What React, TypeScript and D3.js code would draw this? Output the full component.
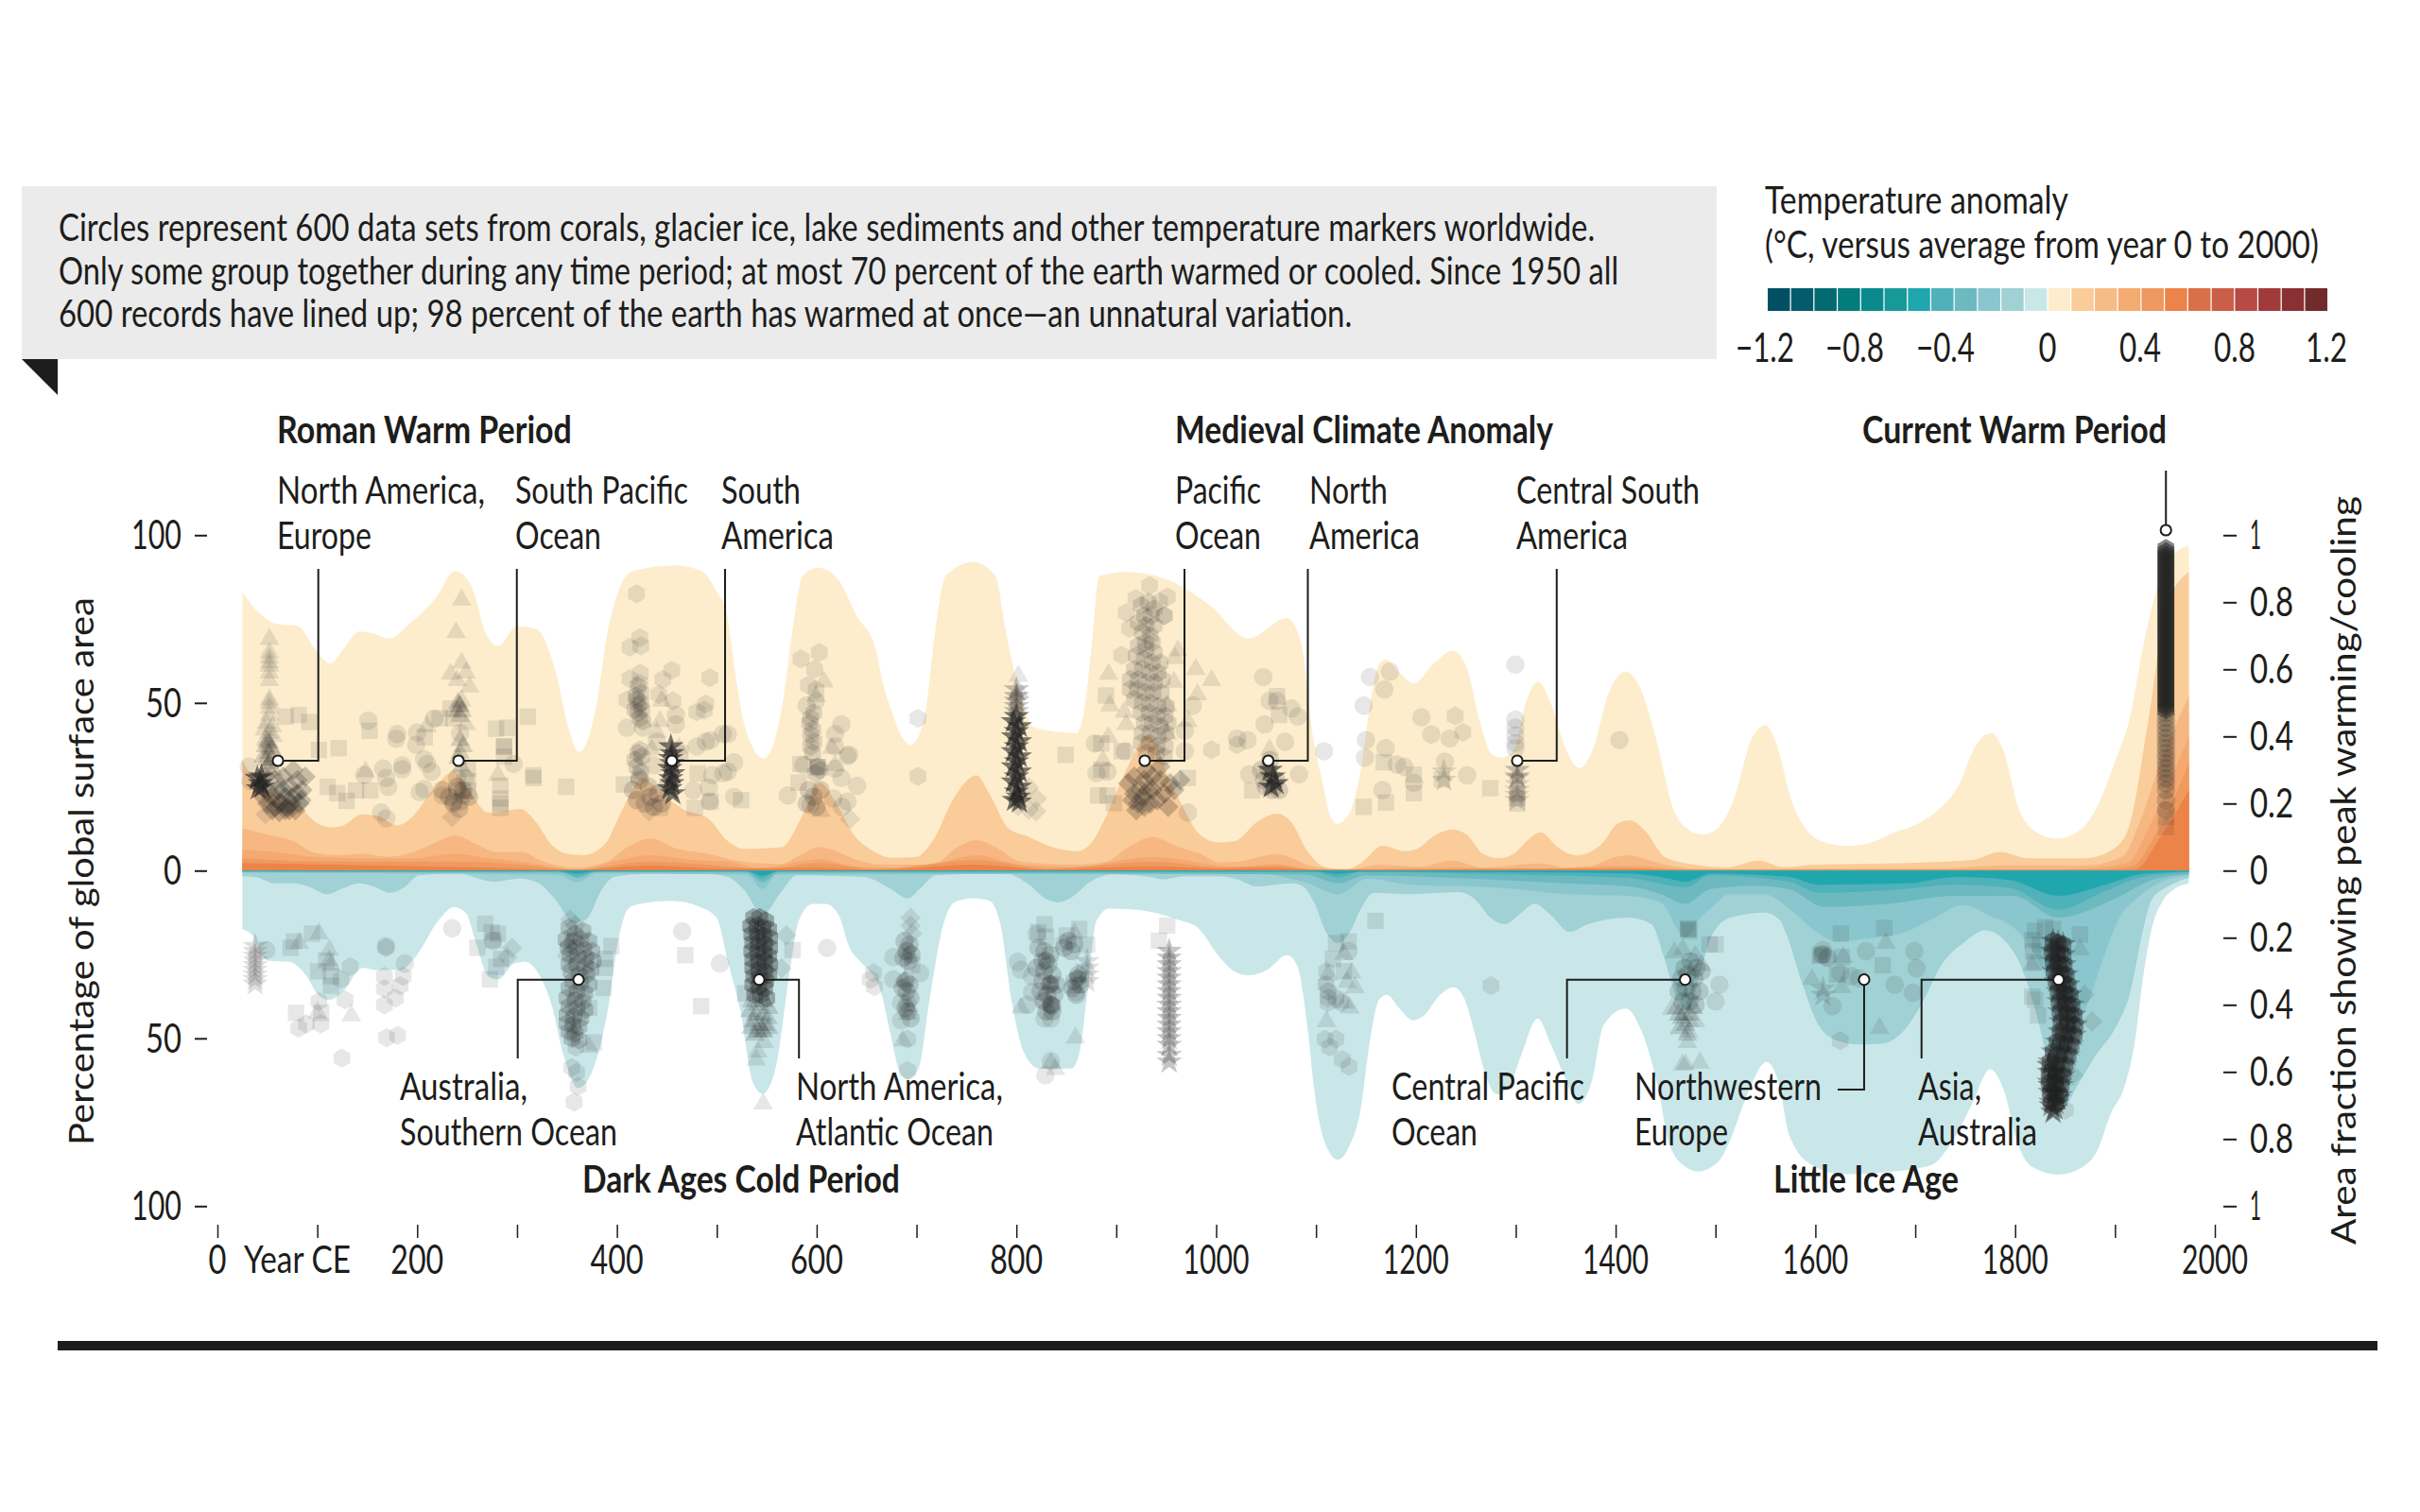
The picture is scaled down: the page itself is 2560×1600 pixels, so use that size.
import * as d3 from "d3";
import { useEffect, useRef } from "react";

type Pt = [number, number];

// warm side: percent of surface area, darkest layer last
const warm1: Pt[] = [[25,83],[41,77],[60,73.5],[80,73],[99,65.6],[113,61.7],[126,66],[142,71.3],[157,70.6],[172,69.2],[192,73.5],[219,81.4],[238,89.3],[254,85],[269,70.6],[281,67],[300,72.8],[319,72],[339,59],[352,42],[362,35.4],[372,40],[381,52],[390,70],[400,82],[416,89.3],[458,91],[485,89.3],[500,83],[509,77.8],[520,56],[528,43],[547,33.5],[557,38],[567,52],[576,72],[586,87.8],[601,90.3],[621,87],[640,76],[659,66.3],[667,55],[675,47.6],[685,40],[694,37.5],[702,40],[709,47.6],[719,72],[729,87.8],[757,92],[779,87.8],[789,72],[798,59],[808,48],[818,42.6],[860,41],[868,48],[875,66],[883,87.8],[910,89],[949,87],[994,79],[1032,69.2],[1071,75.2],[1085,68],[1097,39.8],[1107,25.7],[1113,17.3],[1121,14],[1132,16.4],[1145,30.4],[1154,49],[1163,61.4],[1170,63],[1182,59.5],[1198,55.8],[1217,61.4],[1237,65.6],[1251,60.5],[1264,44.5],[1276,34.7],[1286,33.7],[1298,36],[1311,51],[1322,56.3],[1336,49.2],[1349,37],[1364,30.6],[1377,36],[1393,53],[1410,59.3],[1424,54.9],[1440,39.8],[1458,18.2],[1471,12.6],[1487,10.7],[1502,12.6],[1518,21],[1537,39.8],[1550,43.4],[1562,37],[1575,22],[1590,12.6],[1606,8.8],[1631,7.4],[1650,7.9],[1678,11.2],[1706,14.5],[1722,17.8],[1744,25.7],[1760,37],[1776,41],[1788,36],[1804,18.2],[1820,11.7],[1842,9.5],[1863,11.7],[1879,17.3],[1901,33.3],[1914,44.5],[1929,68],[1952,92],[1974,97]];
const warm2: Pt[] = [[25,32.8],[38,26.7],[63,22],[82,19.2],[98,14.5],[114,12.9],[126,13.5],[145,16.8],[161,16.3],[180,13.5],[196,16.3],[215,23.8],[237,29.5],[252,23.8],[271,17.3],[287,17.7],[303,18.4],[319,14.5],[334,7.9],[350,5],[366,4.6],[388,7.9],[404,17.3],[426,27.6],[445,22.9],[467,18.2],[492,15.4],[511,8.8],[527,6.5],[565,7],[584,15.4],[603,26.2],[618,21],[637,10.7],[653,6.5],[678,3.8],[700,4.1],[716,8.8],[738,22],[760,28.4],[773,22.9],[792,12.6],[811,10.2],[836,7],[861,5.8],[874,7.9],[890,16.3],[910,30],[932,40.3],[953,27.6],[965,20],[984,10.7],[1003,8.4],[1019,8.8],[1041,14.5],[1061,17],[1075,14.5],[1091,6],[1107,1.3],[1129,.3],[1145,2.3],[1167,7.4],[1189,5.8],[1201,6.5],[1220,10.7],[1237,12.3],[1251,10.7],[1267,5],[1283,3.7],[1298,5],[1311,8.8],[1325,11.4],[1342,7],[1361,4.6],[1386,7.9],[1402,14],[1414,15],[1430,11.7],[1449,4.1],[1474,2],[1512,1],[1543,3],[1568,1.1],[1600,1.8],[1694,2.3],[1757,3.2],[1785,5.6],[1813,3.7],[1870,3.7],[1901,7],[1915,14],[1933,44],[1952,79],[1974,89]];
const warm3: Pt[] = [[25,12.6],[50,10.7],[76,8.8],[95,5.5],[120,4.6],[145,5],[170,4.1],[196,5.5],[215,7.9],[238,10.5],[259,7.9],[281,5.5],[306,5.5],[322,3.2],[360,.9],[391,2.7],[410,6.9],[434,9.6],[460,6.5],[492,5],[511,3.5],[543,2.2],[565,2],[580,4.1],[603,7],[618,6],[640,3.2],[669,1.8],[716,1.8],[741,7],[760,9.1],[779,7],[804,2.7],[858,1.8],[890,2.7],[912,7],[937,10],[959,7.4],[984,5],[1003,2.5],[1022,2.7],[1060,4.9],[1097,1.3],[1129,.3],[1167,1.8],[1204,1.1],[1236,3],[1267,.9],[1323,2.1],[1361,.4],[1411,4.6],[1449,1.8],[1480,.6],[1543,.4],[1631,.6],[1725,.6],[1785,1.5],[1870,1.5],[1907,4.1],[1926,15.4],[1945,32],[1974,52]];
const warm4: Pt[] = [[25,6.2],[60,5.5],[95,4.1],[145,3.7],[196,3.7],[238,5],[271,3.7],[303,2.7],[360,.4],[404,3.2],[432,4.6],[476,3.2],[511,2.7],[543,.8],[603,3.4],[637,1.3],[700,.8],[760,4.6],[804,1.8],[858,1.1],[937,4.1],[1003,1.5],[1022,1],[1060,2],[1097,.4],[1236,.9],[1300,.3],[1411,1.5],[1480,.3],[1850,.4],[1913,2.3],[1932,11.7],[1951,24],[1974,40]];
const warm5: Pt[] = [[25,3.7],[114,2.7],[237,2.7],[303,1.8],[360,.3],[432,2.7],[511,1.3],[550,.5],[603,2.3],[660,.5],[760,3.2],[830,.6],[937,2.7],[1003,1],[1060,1.4],[1097,.3],[1411,.7],[1480,.2],[1880,.3],[1917,1.3],[1939,9.8],[1974,32]];
const warm6: Pt[] = [[25,2.3],[237,1.1],[360,.3],[432,1.5],[511,.6],[603,.8],[660,.3],[760,1.8],[830,.4],[937,1.3],[1003,.6],[1060,.8],[1100,.3],[1411,.5],[1480,.2],[1900,.2],[1920,.3],[1945,9.8],[1974,24]];

// cool side, same order
const cool1: Pt[] = [[25,17.4],[35,19.3],[50,26.8],[72,27.2],[88,31],[101,37],[112,38.5],[126,36],[145,29],[158,29.6],[183,29.6],[199,25.4],[221,15],[237,10.8],[249,12.7],[259,21.6],[271,31.5],[281,32.4],[297,27.7],[308,27.2],[322,31],[334,39.4],[347,55.4],[361,64.8],[375,60],[391,41.3],[402,19.7],[413,10.8],[429,9.6],[454,9],[483,10.8],[500,14.1],[511,27],[524,42.3],[536,63],[546,66.5],[558,60],[574,28.2],[582,15],[596,9.9],[609,9.9],[622,13.2],[633,23],[644,27.2],[663,34.8],[674,48.8],[683,60],[691,62.2],[702,59],[713,38.5],[726,17],[738,9.4],[757,8.2],[773,9],[784,16],[795,38.5],[808,54.5],[823,59],[855,59],[863,54.5],[871,36.6],[880,15],[893,11.3],[921,11.7],[962,14.6],[981,16.9],[1003,25.6],[1016,29.6],[1032,31.2],[1051,29.6],[1071,25.2],[1081,28.2],[1092,48],[1098,64.8],[1111,82.6],[1122,86.2],[1134,81.7],[1144,72.3],[1155,48.8],[1163,38.5],[1171,37],[1183,40.9],[1197,44.6],[1208,43.2],[1224,37.1],[1238,34.8],[1249,38.5],[1260,49.8],[1268,59.2],[1281,66.7],[1294,63.9],[1306,54.5],[1322,44.1],[1335,51.7],[1347,60.1],[1363,69.5],[1376,62.9],[1388,46],[1410,41.1],[1426,47.9],[1442,63.9],[1454,81.7],[1470,88.3],[1483,89.7],[1495,88.5],[1505,86],[1514,80.8],[1527,70.4],[1537,63],[1551,57],[1563,63],[1574,78.9],[1597,87.8],[1628,90.5],[1667,90],[1716,87.8],[1735,81.7],[1757,69.5],[1775,59.2],[1789,65.7],[1802,80.8],[1817,88.3],[1843,90.6],[1868,88.3],[1882,83.6],[1896,72.3],[1909,64.8],[1920,50.7],[1928,32],[1937,17],[1947,9.4],[1959,5.6],[1974,3.8]];
const cool2: Pt[] = [[25,1.7],[38,1.9],[57,3.8],[76,3.8],[91,4.7],[110,7],[126,5.2],[142,3.8],[158,4.9],[173,6.6],[186,5.2],[202,1.4],[240,.8],[277,3.3],[303,2.4],[322,3.8],[338,8.5],[357,15.5],[369,14.6],[385,5.6],[397,1.9],[429,1],[492,1],[511,1.9],[527,5.6],[546,13],[565,6.1],[580,1.4],[647,1.9],[675,5.6],[691,8.3],[704,5.2],[719,1.4],[789,.8],[811,3.8],[830,8.5],[842,9.4],[855,8],[874,3.3],[896,1.1],[934,1.9],[947,2.6],[969,1.7],[1003,1.7],[1019,2.4],[1041,4.7],[1076,3.8],[1087,4.7],[1098,9.4],[1111,18.8],[1122,21.6],[1133,18.8],[1145,11.3],[1158,6.6],[1193,7],[1243,6.4],[1259,8.5],[1275,14.1],[1289,16],[1303,13.2],[1319,9.9],[1335,13.2],[1354,18.3],[1372,16],[1413,14],[1436,16],[1448,25.4],[1460,37],[1472,42],[1485,30],[1497,19],[1515,14],[1550,12.5],[1565,15],[1571,19],[1587,33.8],[1603,46],[1622,50.7],[1644,51.8],[1666,51.6],[1688,47.9],[1707,39.4],[1726,28.2],[1748,21.6],[1770,17.8],[1789,20.7],[1808,30],[1824,46],[1839,64.8],[1850,70],[1861,64.8],[1880,55.4],[1902,46],[1915,36.6],[1928,17.8],[1937,8.5],[1953,4.7],[1974,2.1]];
const cool3: Pt[] = [[25,.6],[340,1.2],[360,3.5],[380,.8],[530,1.2],[546,5.5],[560,1.2],[1041,.9],[1092,3.8],[1122,7],[1152,2.4],[1193,4.2],[1256,4.7],[1289,5.2],[1350,7],[1413,7.5],[1445,9.4],[1470,20],[1485,14],[1495,11.3],[1514,7],[1549,7],[1574,11.3],[1600,18],[1622,21.1],[1653,20.2],[1685,18.8],[1716,14.6],[1748,10.3],[1773,13.2],[1805,18.8],[1827,29],[1843,38.5],[1858,46],[1871,41],[1887,27.2],[1906,13.2],[1921,8.5],[1943,3.8],[1974,1.4]];
const cool4: Pt[] = [[25,.4],[345,.6],[361,2.2],[378,.5],[530,.6],[546,3.5],[562,.6],[1090,1.2],[1122,3.8],[1150,1.4],[1256,2.4],[1350,3.8],[1413,4.7],[1445,7],[1470,9.9],[1495,5.5],[1540,4.5],[1574,5.6],[1609,10.8],[1672,9.9],[1741,7.5],[1798,7.5],[1843,14],[1899,8.5],[1937,2.8],[1974,1]];
const cool5: Pt[] = [[25,.3],[340,.3],[360,1.5],[380,.3],[530,.3],[546,2.5],[560,.3],[1100,.4],[1122,2],[1145,.4],[1300,1.2],[1413,2.2],[1470,5],[1495,1.4],[1574,3.3],[1603,6.6],[1685,5.6],[1741,4.2],[1795,5.2],[1843,11.7],[1890,6.1],[1928,1.9],[1974,.5]];
const cool6: Pt[] = [[25,.15],[340,.2],[360,.8],[380,.2],[530,.2],[546,1.5],[562,.2],[1100,.3],[1122,1],[1145,.3],[1300,.5],[1413,.8],[1445,1.9],[1470,3.3],[1495,.8],[1574,1.9],[1603,4.2],[1691,3.8],[1742,1.9],[1795,2.8],[1843,7.5],[1890,4.2],[1928,1],[1974,.3]];

const warmLayers = [warm1, warm2, warm3, warm4, warm5, warm6];
const coolLayers = [cool1, cool2, cool3, cool4, cool5, cool6];
const warmColors = ["#fdedcd", "#f9cc9a", "#f6b783", "#f4a970", "#ef9a5f", "#ec8348"];
const coolColors = ["#c9e7e9", "#a0d1d4", "#8ac6cd", "#6cbac0", "#4fb1ba", "#20a7ad"];

const scaleColors = ["#004f64","#035c6c","#046a72","#037c7c","#0a8a8c","#179899","#20a7ad","#4fb1ba","#6cbac0","#8ac6cd","#a0d1d4","#c9e7e9","#fdedcd","#f9cc9a","#f6bc88","#f3ab70","#ef9860","#ec8348","#d97048","#c95f48","#b84a46","#a03b3a","#8a3033","#6f2c2b"];

// proxy records: [year, percent], negative = cooling
const circles: Pt[] = [[31.5,31],[33,26.7],[151,44.7],[180,40.7],[179,39.3],[200,41.2],[199,37.5],[217,45.3],[207,33.2],[210,31.8],[214.5,29.5],[185,31.4],[185,30.2],[166,30.4],[169,27.6],[171,25],[147,28.5],[202.6,23.4],[207,24.3],[164,17.3],[169,15.6],[296.5,31.8],[225.6,22.4],[236.6,20.6],[243,20.6],[240,23.8],[246,22.5],[248,27.6],[240,27.6],[243,41],[410,42.6],[426,42.6],[440,38.4],[459,43.6],[459,46.4],[480,37],[489,38.4],[493.7,38.9],[506,40.7],[495.4,28.5],[492,24.8],[493,20.6],[476.4,23.9],[437,31.4],[506.5,29],[590,49.2],[624.7,43.6],[618.4,40.7],[618.4,37],[632.6,34.6],[631,34.2],[586.8,31.4],[618.4,30.4],[640.5,25.3],[624.7,27.6],[631,20.6],[625.3,19],[616.8,21.5],[593.8,19.6],[571,22.4],[517.4,32.3],[511,29.5],[517.4,22],[511,40.7],[878.7,37.9],[880.2,29],[891.3,29.5],[908.6,35.6],[971.7,17.3],[968.6,35.6],[976.5,49.2],[968.6,41.7],[1047.2,57.7],[1053.5,50.6],[1061,50.6],[1075.5,48.3],[1081.8,45.9],[1048.5,43.6],[1021,39.4],[1031.5,38.9],[1069,38.4],[1083,28.7],[1033,28.7],[1108,35.6],[1154,57.7],[1174,59.3],[1168.4,54],[1147.7,49.2],[1205.5,45.7],[1215.5,40.6],[1234,39.4],[1150,38.9],[1169.7,36.5],[1149,33.7],[1181,31.6],[1188.5,30.9],[1198,26.2],[1166.5,24],[1229,32.5],[1251.3,28.4],[1403.8,38.9],[1299.6,61.4],[1299.6,45],[1299.6,42.6],[1299.6,40.3],[1299.6,38],[1299.6,36.5],
[48.9,-23.7],[168.8,-22.5],[187.7,-27.7],[235,-17.2],[276,-20.9],[465.4,-18.1],[503.2,-27.7],[610.5,-23],[676.7,-25.8],[703.6,-30.5],[676.7,-32.4],[684.6,-39.4],[691,-39.4],[684.6,-44.6],[801.4,-27.2],[804.5,-29.6],[820.3,-19],[815.6,-31.5],[815.6,-36.2],[810.8,-40],[828.2,-44.1],[834.5,-44.1],[826.6,-38.5],[836,-40.4],[834.5,-56.8],[829.1,-61],[859.7,-36.2],[1132.7,-24],[1607.5,-23.7],[1650.7,-24],[1699,-24],[1701.2,-29.1],[1679.4,-34],[1697.4,-36.4],[1617,-40.4],[1500,-39],[1643.8,-32.1],[1636,-31.5],[1625,-30.5],[1504,-34]];
const squares: Pt[] = [[68.4,45.9],[81.4,46.4],[92,44.3],[101.6,36],[121.4,36.5],[152.4,41.7],[110.4,25],[120,23.1],[129.3,20.8],[138.8,23.9],[153,23.9],[207.6,39.8],[233.4,48.3],[222.4,45.4],[236.6,45.4],[279,42.3],[290,42.6],[310.7,45.9],[287,37],[287,37],[287,34],[316.4,28.4],[316.4,27.6],[349.2,25],[283.3,25.3],[283.3,21.5],[283.3,20],[283.3,18.7],[250.8,30.4],[250.8,26.7],[250.8,23.9],[407,25.7],[443,18.7],[463.7,35],[481,29],[478,18.7],[493.7,20.6],[583.7,31.8],[582,26.2],[601,30.9],[601,30.9],[524.4,21],[849.3,34.5],[889.7,52.2],[885,37.9],[885,30],[881.8,22.4],[891.3,22.4],[897.6,20.1],[971.7,27.6],[905.5,35.6],[1147.7,19],[1170,20.3],[1198,28.6],[1198,23.1],[1167.8,32.3],[1274.5,24.6],[1226,27.2],[1036,23.9],[1063,46.4],[1061,52],[1301.5,20],[1301.5,21.5],[1301.5,23],[1951,13],[1951,16],
[76.6,-21.1],[73.2,-23],[94.6,-18.8],[108.8,-26.8],[100.9,-30],[113.6,-31.5],[113.6,-34.3],[78.8,-42.4],[104,-42.4],[268.2,-15.8],[274.5,-18.3],[280.8,-18.8],[260.3,-23],[276,-20.7],[284,-26.3],[279.2,-28.7],[272.9,-32.4],[468.5,-25.2],[394.4,-22.5],[388,-29],[386.5,-35],[484.3,-40.4],[377,-51.2],[388,-26.3],[372.2,-40.9],[575.8,-23.7],[528.5,-36.6],[695.7,-28.2],[828.2,-16],[821.9,-18.3],[862.9,-17.4],[850.3,-19.3],[870.8,-22.1],[829.8,-19.7],[951,-16.4],[942.7,-20.9],[1159.5,-15],[1120,-21.6],[1132.7,-21.1],[1116.9,-26.3],[1128,-30],[1472.5,-17.4],[1472.5,-17.4],[1474,-18],[1494,-22],[1500,-22],[1669,-17.1],[1625.5,-18.8],[1604.3,-25.4],[1606,-25],[1626.4,-25.8],[1667.4,-28.2],[1621.7,-31],[1820,-17.9],[1830,-16.9],[1838,-17.4],[1817,-20.7],[1820,-27.2],[1817,-37.6],[1820,-38.5],[1823,-43.2],[1825,-22],[1818,-24],[1865,-19]];
const triangles: Pt[] = [[52,69],[52,65],[52,63.5],[52,62],[52,61],[52,59],[52,56.7],[52,51],[52,50],[52,48.5],[52,46.4],[49,44],[55,43],[47,42],[52,41],[56,40],[48,39],[244.5,80.7],[239,71],[244.5,61.9],[233.4,58.6],[249,59],[240,56.7],[252.4,54.8],[244.5,50.6],[241.3,49.2],[240,47.3],[249,43.6],[209.8,43],[247.6,22.9],[280.8,28.5],[444.8,50.6],[443,44.5],[440,41.2],[435,36],[462,36.5],[148.3,29.5],[607.3,56.3],[599.4,52],[615.2,36.5],[618.4,31.4],[604.2,17.7],[892.2,58.6],[893.5,49.2],[908,47.3],[910,43.6],[892,39.8],[886.6,32.8],[961.7,65.6],[959,63.3],[979.6,60],[995.4,56.7],[981.2,52.5],[957.6,56.2],[951.2,49.2],[951.2,40.7],[971.7,44.5],[802,58],[803,53.4],[800,52.5],[1053.5,36],
[101.6,-18.8],[82,-21.6],[112,-23.7],[112,-26.8],[113.6,-28.2],[100.3,-42.3],[134,-43.2],[372.2,-52.6],[546.4,-69.5],[539.5,-56.4],[547.4,-51.2],[541,-54],[545.8,-47.9],[687.8,-32.9],[691,-42.7],[686.2,-50.7],[692.5,-40.4],[858.2,-18.8],[834.5,-33.8],[861.3,-31.5],[858.2,-34.8],[804.5,-40.9],[859.1,-49.8],[834.5,-57.3],[839.2,-59.2],[1128,-24.9],[1112,-31],[1135.8,-30.5],[1131,-33.3],[1139,-34.8],[1134,-40.9],[1129.5,-39.4],[1110.6,-45],[1459,-24.4],[1467,-23.5],[1479.7,-25.4],[1486,-28.2],[1456,-41.3],[1468,-43],[1474,-45],[1480,-45],[1473,-48],[1472,-51.2],[1467,-57.8],[1470,-57.8],[1484.4,-57.3],[1670.6,-21.6],[1628,-25.8],[1596.5,-32.4],[1626.4,-34.8],[1664.3,-47],[1817,-28.2],[1865,-23.5]];
const hexagons: Pt[] = [[419.6,82.5],[423,69.4],[413,66.6],[424,67],[455,59.7],[413,57.2],[423.4,58.8],[446,57],[493,57.5],[410,50.9],[423,55.8],[489,49.7],[480,47.3],[487.5,47.8],[456,50.6],[442,52.5],[602.6,65],[584.3,63.1],[597.9,60],[591.6,55.3],[599.4,53.9],[599.4,50.6],[701.4,45.4],[701.4,28.1],[995.4,36],[933.3,84.9],[919.7,81.1],[951.2,81.6],[948,76],[948,76],[910,76.9],[905.5,64.2],[913.3,72.2],[943.3,80.2],[1239.4,46.1],[1247,41.2],[1021,37.5],
[168.8,-23],[133,-28.6],[123.6,-32.4],[127.7,-38.5],[101.6,-39],[124.6,-55.9],[169.4,-49.8],[180.4,-49.1],[167.2,-31.5],[167.2,-35.2],[167.2,-40],[178.2,-38],[183,-34.3],[186,-31.5],[81.4,-47],[89,-45.7],[103.5,-45.7],[354.9,-58.7],[359.6,-60.1],[361.2,-64.3],[357.1,-69],[359,-52.6],[656.9,-30.5],[653.7,-32.4],[657.8,-34.6],[691,-50.2],[691,-59.6],[829.8,-26.8],[829.8,-26.8],[834.5,-33.8],[834.5,-33.8],[834.5,-40],[834.5,-40],[847.1,-21.6],[861.3,-32],[861.3,-32],[1110.6,-30],[1112,-38],[1112,-39.4],[1124.8,-39.4],[1109,-50.2],[1120,-50.2],[1113.7,-52.6],[1126.3,-56.3],[1133,-58.4],[1275.3,-34.3],[1624.9,-50.7],[1850.4,-71.4]];
const diamonds: Pt[] = [[48.2,16.8],[235,15.9],[432,17.7],[801.4,19.2],[812.4,18.2],[819.7,17.7],[820.3,21.5],[812.4,24.8],[633.5,15.4],
[295,-23],[290,-25.8],[353.3,-14.6],[358,-16.4],[351.8,-22.1],[350.2,-25.4],[569.5,-19.3],[564.7,-29.1],[694,-14.1],[694,-16.4],[695.7,-18.8],[691,-23.5],[691,-25.4],[687.8,-32.9],[1877,-45],[1869.4,-37],[1858,-61]];
const stars: Pt[] = [[37.8,-22.5],[37.8,-24],[37.8,-25.4],[37.8,-26.8],[37.8,-28.2],[37.8,-29.6],[37.8,-31],[37.8,-32.4],[37.8,-33.8],[870.8,-27],[870.8,-29],[870.8,-31],[870.8,-33],[1228,29.5],[1228,27],[1301.5,27.6],[1301.5,25.7],[1301.5,24],[1301.5,22.5],[1301.5,21],[1607.5,-35.2],[1607.5,-37.1],[1837.8,-71.8]];

// tight columns, drawn with a heavier ink
const denseTriangles: Pt[] = [[52,38],[48,37],[55,36],[51,35],[46,34],[54,33],[52,32],[50,31],[56,30],[50,38.5],[53,36.5],[49,33],[243,38.9],[246,37],[243,35.1],[241,33.5],[244,31],[243,49],[245,47.5],[243,46],[241,50],[1461,-41],[1463,-43],[1466,-44],[1470,-46],[1474,-43],[1478,-41],[1464,-47],[1472,-49],[535,-39],[541,-40],[547,-39],[552,-41],[533,-42],[539,-43],[546,-43],[551,-44],[536,-45],[542,-46],[548,-46],[534,-47],[541,-48],[547,-48],[552,-47],[538,-49]];
const denseHex: Pt[] = [[421,55],[424,53],[420,51],[422,49.5],[425,48],[421,47],[423,45.5],[426,44.5],[419,52],[424,50],[418,48],[421,35],[423,36],[425,34],[420,31],[424,29.5],[422,28],[418,33],[597,47],[594,45.5],[593,44],[596,42],[594,40.5],[597,38.5],[594,37],[596,35],[601,31],[599,29],[603,30],[925,79],[932,80],[938,78],[928,76],[935,76],[922,74],[930,73],[938,73],[926,71],[934,70],[929,68],[936,68],[922,67],[930,66],[938,65],[920,64],[928,63],[936,62],[944,62],[918,60],[926,60],[934,59],[942,59],[914,57],[922,57],[930,56],[938,56],[946,57],[914,54],[921,54],[929,53],[937,53],[945,53],[918,51],[926,50],[934,50],[942,49],[950,49],[925,47],[933,47],[941,46],[949,46],[928,44],[936,44],[944,43],[952,44],[926,41],[934,41],[942,40],[950,41],[925,38],[933,38],[941,37],[949,37],[930,35],[940,35],[948,34],[1110,-34],[1112,-36],[1120,-38]];
const denseDiamonds: Pt[] = [[50,20],[55,18],[60,21],[62,17.5],[70,19],[75,22],[78,18],[82,20],[85,24],[80,27],[72,25],[66,28],[58,27],[50,24],[48,28],[88,28],[76,30],[72,18],[60,24],[68,22],[80,23],[64,20],[54,22],[58,19],[66,24],[74,20],[84,21],[68,18],[46,22],[918,28],[925,24],[916,21],[920,18],[928,19],[932,24],[936,28],[930,30],[944,27],[948,23],[952,19],[958,24],[964,27],[926,22],[934,20],[944,31],[918,23],[922,20],[936,24],[941,21],[954,26],[912,26],[928,27]];
const denseCircles: Pt[] = [[225,24],[232,22],[240,25],[246,24],[252,22],[236,20],[242,18.5],[416,24],[423,27],[432,25],[441,23],[450,25],[428,20],[437,19],[420,21],[445,20],[433,22],[590,20],[597,22],[604,24],[592,24],[600,19],[1045,30],[1048,27],[1056,24],[1052,30],[1060,27],[1063,24],[1054,33],[1050,25],[1469,-29],[1475,-27],[1481,-29],[1466,-32],[1472,-31],[1479,-32],[1486,-30],[1463,-36],[1470,-35],[1477,-36],[1484,-36],[1467,-39],[1474,-39],[1480,-40],[1607,-25],[1612,-26],[688,-21],[693,-22],[690,-24],[695,-25],[687,-26],[692,-27],[689,-33],[693,-34],[690,-36],[686,-35],[691,-42],[694,-44],[689,-41],[694,-38],[822,-23],[828,-24],[834,-25],[826,-27],[832,-28],[820,-29],[828,-30],[836,-31],[826,-33],[833,-34],[840,-34],[824,-36],[831,-37],[838,-37],[828,-39],[835,-40],[830,-42],[836,-42],[852,-21],[858,-22],[848,-23],[855,-24],[862,-31],[858,-33],[864,-34],[856,-35],[860,-37]];
const denseCol360: Pt[] = [[352,-17],[358,-19],[366,-18],[349,-20.5],[356,-21],[364,-20.5],[372,-21],[351,-23],[359,-23],[367,-23.5],[375,-24],[353,-25],[361,-25.5],[369,-26],[376,-27],[352,-28],[360,-28],[368,-28.5],[374,-29.5],[354,-30],[362,-31],[370,-31],[356,-33],[364,-33.5],[372,-34],[352,-35],[360,-36],[368,-36.5],[350,-38],[358,-38.5],[366,-39],[352,-40.5],[360,-41],[368,-41.5],[350,-43],[357,-43.5],[364,-44],[350,-45.5],[356,-46],[362,-46.5],[352,-48],[358,-48.5],[355,-50],[362,-50.5]];
const denseCol545: Pt[] = [[537,-14],[543,-14],[549,-15],[534,-16.5],[540,-16.5],[546,-17],[552,-17.5],[535,-19],[541,-19],[547,-19.5],[553,-20],[536,-21.5],[542,-21.5],[548,-22],[553,-23],[535,-24],[541,-24],[547,-24.5],[552,-25.5],[536,-26.5],[542,-27],[548,-27],[553,-28],[536,-29],[542,-29.5],[548,-30],[552,-31],[537,-31.5],[543,-32],[549,-33],[536,-34],[542,-34.5],[548,-35],[538,-37],[544,-37],[550,-38]];
const darkStars: Pt[] = [[40,27.5],[43,26],[44,28],[45,25],[41,24.5],[454,37],[455,35],[454,33.5],[455,32],[453,30.5],[456,29],[454,27.5],[455,26],[453,24.5],[456,23],[800,46],[797,44.5],[803,43],[800,41.5],[797,40],[803,38.5],[800,37],[797,35.5],[803,34],[800,32.5],[797,31],[803,29.5],[800,28],[797,26.5],[803,25],[800,23.5],[802,22],[803,20.5],[798,21],[1054,30],[1057,28],[1060,26],[1055,25]];
const midStars: Pt[] = [[800,54],[800,52],[800,50.5],[800,49],[800,47.5],[953,-24],[953,-26],[953,-28],[953,-30],[953,-32],[953,-34],[953,-36],[953,-38],[953,-40],[953,-42],[953,-44],[953,-46],[953,-48],[953,-50],[953,-52],[953,-55],[953,-57],[1301.5,30],[1301.5,28]];
const column1950: number[] = [96,95,94,93,92,91,90,89,88,87,86,85,84,83,82,81,80,79,78,77,76,75,74,73,72,71,70,69,68,67,66,65,64,63,62,61,60,59,58,57,56,55,54,53,52,51,50,49,48];
const fade1950: number[] = [47,45.5,44,42.5,41,39.5,38,36.5,35,33.5,32,30.5,29,27.5,26,24,21,18];
const column1845: Pt[] = [[1838,-21],[1843,-21.5],[1848,-22],[1837,-24],[1842,-24.5],[1848,-25],[1838,-27],[1843,-27.5],[1849,-28],[1839,-30],[1845,-30.5],[1851,-31],[1841,-33],[1847,-33.5],[1853,-34],[1843,-36],[1849,-36.5],[1855,-37],[1844,-39],[1850,-39.5],[1857,-40],[1845,-42],[1852,-42.5],[1859,-43],[1846,-45],[1853,-45.5],[1860,-46],[1845,-48],[1852,-48.5],[1859,-49],[1842,-51],[1849,-51.5],[1856,-52],[1838,-54],[1845,-54.5],[1853,-55],[1835,-57],[1842,-57.5],[1850,-58],[1834,-60],[1841,-60.5],[1848,-61],[1834,-63],[1840,-63.5],[1846,-64],[1835,-66],[1840,-66.5],[1845,-67],[1836,-69],[1841,-69.5]];
const starTail1845: Pt[] = [[1834,-58],[1838,-60],[1843,-62],[1835,-64],[1839,-66],[1843,-68],[1836,-70],[1840,-71],[1838,-72]];

const xTickValues = d3.range(0, 2001, 100);
const xLabelValues = d3.range(0, 2001, 200);
const leftTicks = [100, 50, 0, -50, -100];
const rightTicks = [100, 80, 60, 40, 20, 0, -20, -40, -60, -80, -100];
const scaleTickLabels = ["−1.2", "−0.8", "−0.4", "0", "0.4", "0.8", "1.2"];
const scaleTickX = [1867, 1962, 2058, 2166, 2264, 2364, 2461];
const scaleTickWidth = [62, 62, 62, 19, 44, 44, 44];

// callouts: year of the marker, year of the leader
const upperCallouts: Pt[] = [[60.6,101],[241.4,299.8],[455,508.3],[928.5,968.3],[1052.2,1091.8],[1301.5,1341]];
const lowerCallouts: Pt[] = [[361.6,300.7],[542.4,582.3],[1469.6,1351.3],[1843.5,1706.3]];

const introLines: [string, number, number][] = [
  ["Circles represent 600 data sets from corals, glacier ice, lake sediments and other temperature markers worldwide.", 255, 1626],
  ["Only some group together during any time period; at most 70 percent of the earth warmed or cooled. Since 1950 all", 301, 1651],
  ["600 records have lined up; 98 percent of the earth has warmed at once—an unnatural variation.", 346, 1369],
];

// text, left x, baseline, width, bold
const annotations: [string, number, number, number, boolean][] = [
  ["Roman Warm Period", 293, 469, 312, true],
  ["Medieval Climate Anomaly", 1243, 469, 400, true],
  ["Current Warm Period", 1970, 469, 322, true],
  ["Dark Ages Cold Period", 616, 1262, 336, true],
  ["Little Ice Age", 1876, 1262, 196, true],
  ["North America,", 293, 533, 220, false],
  ["Europe", 293, 581, 100, false],
  ["South Pacific", 545, 533, 183, false],
  ["Ocean", 545, 581, 91, false],
  ["South", 763, 533, 84, false],
  ["America", 763, 581, 119, false],
  ["Pacific", 1243, 533, 91, false],
  ["Ocean", 1243, 581, 91, false],
  ["North", 1385, 533, 83, false],
  ["America", 1385, 581, 117, false],
  ["Central South", 1604, 533, 194, false],
  ["America", 1604, 581, 118, false],
  ["Australia,", 423, 1164, 135, false],
  ["Southern Ocean", 423, 1212, 230, false],
  ["North America,", 842, 1164, 219, false],
  ["Atlantic Ocean", 842, 1212, 209, false],
  ["Central Pacific", 1472, 1164, 204, false],
  ["Ocean", 1472, 1212, 91, false],
  ["Northwestern", 1729, 1164, 198, false],
  ["Europe", 1729, 1212, 99, false],
  ["Asia,", 2029, 1164, 67, false],
  ["Australia", 2029, 1212, 126, false],
  ["Temperature anomaly", 1867, 226, 321, false],
  ["(°C, versus average from year 0 to 2000)", 1867, 273, 586, false],
  ["Year CE", 258, 1347, 113, false],
];

const hexagon = {
  draw(ctx: any, size: number) {
    const r = Math.sqrt(size / 2.598);
    for (let i = 0; i < 6; i++) {
      const a = (Math.PI / 3) * i;
      const px = r * Math.sin(a);
      const py = -r * Math.cos(a);
      if (i === 0) ctx.moveTo(px, py);
      else ctx.lineTo(px, py);
    }
    ctx.closePath();
  },
};

const diamond = {
  draw(ctx: any, size: number) {
    const r = Math.sqrt(size / 2);
    ctx.moveTo(0, -r);
    ctx.lineTo(r, 0);
    ctx.lineTo(0, r);
    ctx.lineTo(-r, 0);
    ctx.closePath();
  },
};

export default function App() {
  const svgRef = useRef<SVGSVGElement | null>(null);

  useEffect(() => {
    if (!svgRef.current) return;
    const svg = d3.select(svgRef.current);
    svg.selectAll("*").remove();

    const font = "Lato, 'Noto Sans', sans-serif";
    const ink = "#1d1d1b";

    const x = d3.scaleLinear().domain([0, 2000]).range([230, 2343]);
    const y = d3.scaleLinear().domain([-100, 100]).range([1276.3, 566.3]);

    // the reference type is condensed, so squeeze each string to its measured width
    const fitted = (s: string, tx: number, ty: number, w: number, bold = false, size = 41) => {
      const t = svg
        .append("text")
        .attr("font-family", font)
        .attr("font-size", size)
        .attr("font-weight", bold ? 700 : 400)
        .attr("fill", ink)
        .text(s);
      const natural = (t.node() as SVGTextElement).getComputedTextLength() || w;
      t.attr("transform", `translate(${tx},${ty}) scale(${w / natural},1)`);
      return t;
    };

    svg.append("rect").attr("x", 23).attr("y", 197).attr("width", 1793).attr("height", 183).attr("fill", "#ebebeb");
    svg.append("path").attr("d", "M23,380H61V418Z").attr("fill", ink);
    svg.append("rect").attr("x", 61).attr("y", 1419).attr("width", 2454).attr("height", 10).attr("fill", ink);

    introLines.forEach(([s, base, right]) => fitted(s, 62, base, right));

    // legend swatches
    const swatch = d3.scaleBand<number>().domain(d3.range(scaleColors.length)).range([1870, 2462]).paddingInner(0.05);
    svg
      .append("g")
      .selectAll("rect")
      .data(scaleColors)
      .join("rect")
      .attr("x", (_, i) => swatch(i) as number)
      .attr("y", 305)
      .attr("width", swatch.bandwidth())
      .attr("height", 24)
      .attr("fill", (d) => d);
    scaleTickLabels.forEach((s, i) => fitted(s, scaleTickX[i] - scaleTickWidth[i] / 2, 383, scaleTickWidth[i], false, 42));

    // stacked bands
    const warmArea = d3
      .area<Pt>()
      .x((d) => x(d[0]))
      .y0(y(0))
      .y1((d) => y(d[1]))
      .curve(d3.curveMonotoneX);
    const coolArea = d3
      .area<Pt>()
      .x((d) => x(d[0]))
      .y0(y(0))
      .y1((d) => y(-d[1]))
      .curve(d3.curveMonotoneX);

    warmLayers.forEach((layer, i) => {
      svg.append("path").datum(layer).attr("fill", warmColors[i]).attr("d", warmArea as any);
    });
    coolLayers.forEach((layer, i) => {
      svg.append("path").datum(layer).attr("fill", coolColors[i]).attr("d", coolArea as any);
    });

    // markers
    const circle = d3.symbol().type(d3.symbolCircle).size(300)();
    const square = d3.symbol().type(d3.symbolSquare).size(300)();
    const triangle = d3.symbol().type(d3.symbolTriangle).size(190)();
    const hex = d3.symbol().type(hexagon as any).size(270)();
    const diam = d3.symbol().type(diamond as any).size(240)();
    const star = d3.symbol().type(d3.symbolStar).size(230)();

    const pts1950 = column1950.map((v) => [1951, v] as Pt);
    const fadePts = fade1950.map((v) => [1951, v] as Pt);

    const groups: [Pt[], string | null, number][] = [
      [circles, circle, 0.11],
      [squares, square, 0.11],
      [triangles, triangle, 0.11],
      [hexagons, hex, 0.11],
      [diamonds, diam, 0.11],
      [stars, star, 0.14],
      [denseTriangles, triangle, 0.16],
      [denseHex, hex, 0.14],
      [denseCircles, circle, 0.16],
      [denseCol360, hex, 0.2],
      [denseCol545, hex, 0.34],
      [denseDiamonds, diam, 0.24],
      [midStars, star, 0.26],
      [darkStars, star, 0.6],
      [fadePts, circle, 0.2],
      [pts1950, hex, 0.55],
      [column1845, hex, 0.42],
      [column1845, star, 0.35],
      [starTail1845, star, 0.45],
    ];

    groups.forEach(([pts, path, alpha]) => {
      svg
        .append("g")
        .selectAll("path")
        .data(pts)
        .join("path")
        .attr("d", path)
        .attr("transform", (d) => `translate(${x(d[0])},${y(d[1])})`)
        .attr("fill", "#222")
        .attr("fill-opacity", alpha);
    });

    // axes
    const xAxis = d3.axisBottom(x).tickValues(xTickValues).tickSize(14).tickFormat(() => "");
    const xG = svg.append("g").attr("transform", "translate(0,1296)").call(xAxis as any);
    xG.select(".domain").remove();
    xG.selectAll("line").attr("stroke", ink).attr("stroke-width", 1.5);

    xLabelValues.forEach((v) => {
      const w = v === 0 ? 19 : v < 1000 ? 56 : 70;
      fitted(String(v), x(v) - w / 2, 1348, w, false, 43);
    });

    const tickStyle = (g: any) => {
      g.select(".domain").remove();
      g.selectAll("line").attr("stroke", ink).attr("stroke-width", 2);
      g.selectAll("text").remove();
    };
    const leftG = svg.append("g").attr("transform", "translate(219,0)").call(d3.axisLeft(y).tickValues(leftTicks).tickSize(13) as any);
    tickStyle(leftG);
    const rightG = svg.append("g").attr("transform", "translate(2352,0)").call(d3.axisRight(y).tickValues(rightTicks).tickSize(14) as any);
    tickStyle(rightG);

    leftTicks.forEach((v) => {
      const label = String(Math.abs(v));
      const w = label.length === 3 ? 53 : label.length === 2 ? 38 : 19;
      fitted(label, 192 - w, y(v) + 15, w, false, 43);
    });
    rightTicks.forEach((v) => {
      const label = v === 0 ? "0" : Math.abs(v) === 100 ? "1" : String(Math.abs(v) / 100);
      const w = label.length > 1 ? 46 : label === "1" ? 12 : 19;
      fitted(label, 2380, y(v) + 15, w, false, 43);
    });

    // axis titles
    svg
      .append("text")
      .attr("transform", "translate(99,1212) rotate(-90)")
      .attr("textLength", 580)
      .attr("lengthAdjust", "spacingAndGlyphs")
      .attr("font-family", font)
      .attr("font-size", 36)
      .attr("fill", ink)
      .text("Percentage of global surface area");
    svg
      .append("text")
      .attr("transform", "translate(2492,1317) rotate(-90)")
      .attr("textLength", 792)
      .attr("lengthAdjust", "spacingAndGlyphs")
      .attr("font-family", font)
      .attr("font-size", 36)
      .attr("fill", ink)
      .text("Area fraction showing peak warming/cooling");

    // leaders
    const leader = d3.line<Pt>().x((d) => d[0]).y((d) => d[1]);
    const drawLeader = (pts: Pt[]) =>
      svg.append("path").attr("d", leader(pts)).attr("fill", "none").attr("stroke", ink).attr("stroke-width", 2);
    const drawDot = (cx: number, cy: number) =>
      svg.append("circle").attr("cx", cx).attr("cy", cy).attr("r", 5.6).attr("fill", "#fff").attr("stroke", ink).attr("stroke-width", 2);

    const upperY = y(32.76);
    upperCallouts.forEach(([dotYear, lineYear]) => {
      drawLeader([[x(dotYear), upperY], [x(lineYear), upperY], [x(lineYear), 602]]);
      drawDot(x(dotYear), upperY);
    });
    const lowerY = y(-32.5);
    lowerCallouts.forEach(([dotYear, lineYear]) => {
      drawLeader([[x(dotYear), lowerY], [x(lineYear), lowerY], [x(lineYear), 1120]]);
      drawDot(x(dotYear), lowerY);
    });
    drawLeader([[x(1648.8), lowerY], [x(1648.8), 1153], [1944, 1153]]);
    drawDot(x(1648.8), lowerY);
    drawLeader([[x(1951), 498], [x(1951), y(101.5)]]);
    drawDot(x(1951), y(101.5));

    annotations.forEach(([s, tx, ty, w, bold]) => fitted(s, tx, ty, w, bold));
  }, []);

  return (
    <svg
      ref={svgRef}
      width={2560}
      height={1600}
      viewBox="0 0 2560 1600"
      style={{ position: "absolute", left: 0, top: 0, background: "#fff" }}
    />
  );
}
